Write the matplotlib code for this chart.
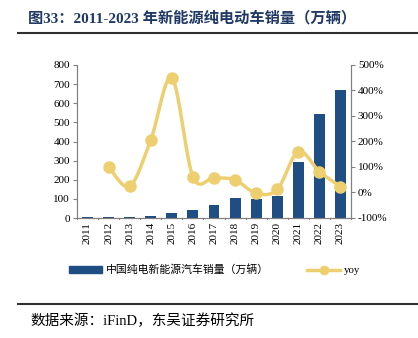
import numpy as np
import matplotlib
matplotlib.use("Agg")
import matplotlib.pyplot as plt
from matplotlib.lines import Line2D
from matplotlib.patches import Patch

plt.rcParams['font.family'] = ['Liberation Serif', 'Noto Sans CJK SC']

years = ['2011', '2012', '2013', '2014', '2015', '2016', '2017', '2018',
         '2019', '2020', '2021', '2022', '2023']
sales = [5, 5, 5, 12, 28, 44, 68, 103, 100, 115, 294, 542, 669]
yoy_years = years[1:]
yoy = [101, 25, 206, 448, 62, 58, 49, -3, 12, 160, 82, 23]

BAR = '#1F4E84'
LINE = '#EDCF70'

fig = plt.figure(figsize=(4.18, 3.38), dpi=100)
ax = fig.add_axes([77/418, 1-218/338, (351-77)/418, (218-65)/338])
ax2 = ax.twinx()

x = np.arange(len(years))
ax.bar(x, sales, width=0.52, color=BAR, zorder=2)
ax.set_ylim(0, 800)
ax.set_yticks(range(0, 801, 100))
ax.set_xlim(-0.5, len(years)-0.5)
ax.set_xticks(x)
ax.set_xticklabels(years, rotation=90)

# smoothed yoy line (Catmull-Rom through data points)
xp = np.arange(1, len(years), dtype=float)
yp = np.array(yoy, dtype=float)
P = np.vstack([xp, yp]).T
Pe = np.vstack([P[0], P, P[-1]])
cx, cy = [], []
for i in range(1, len(Pe)-2):
    p0, p1, p2, p3 = Pe[i-1], Pe[i], Pe[i+1], Pe[i+2]
    t = np.linspace(0, 1, 20)[:, None]
    c1 = p1 + (p2 - p0) / 6
    c2 = p2 - (p3 - p1) / 6
    seg = ((1-t)**3)*p1 + 3*((1-t)**2)*t*c1 + 3*(1-t)*t**2*c2 + t**3*p2
    cx.extend(seg[:, 0]); cy.extend(seg[:, 1])
ax2.plot(cx, cy, color=LINE, lw=2.5, zorder=3, solid_capstyle='round')
ax2.plot(xp, yp, 'o', color=LINE, ms=8, zorder=4)
ax2.set_ylim(-100, 500)
ax2.set_yticks(range(-100, 501, 100))
ax2.set_yticklabels([f'{v}%' for v in range(-100, 501, 100)])

for a in (ax, ax2):
    a.spines['top'].set_visible(False)
    for s in ('left', 'right', 'bottom'):
        a.spines[s].set_color('#808080')
        a.spines[s].set_linewidth(0.8)
    a.tick_params(labelsize=8, length=3, width=0.8, color='#808080', pad=2)
ax.tick_params(axis='x', length=0, pad=3)

# category boundary ticks on x axis
for b in np.arange(-0.5, len(years), 1.0):
    ax.plot([b, b], [0, -6], color='#808080', lw=0.8, clip_on=False)

# title
fig.text(28/418, 1-18/338, '图33：2011-2023 年新能源纯电动车销量（万辆）',
         fontsize=11, fontweight='bold', color='#1F3864', va='center', ha='left')
fig.add_artist(Line2D([18/418, 1], [1-33/338]*2, color='#303030', lw=1.5))
fig.add_artist(Line2D([18/418, 1], [1-304/338]*2, color='#303030', lw=1.5))
fig.text(30/418, 1-321/338, '数据来源：iFinD，东吴证券研究所', fontsize=10.5,
         va='center', ha='left', color='#000000')

handles = [Patch(color=BAR), Line2D([], [], color=LINE, lw=2.5, marker='o', ms=6)]
fig.legend(handles, ['中国纯电新能源汽车销量（万辆）', 'yoy'],
           loc='center', bbox_to_anchor=(215/418, 1-270/338), ncol=2,
           frameon=False, fontsize=7.8, handlelength=3.0, columnspacing=3.5,
           handletextpad=0.4)

fig.savefig('out.png', dpi=100)
